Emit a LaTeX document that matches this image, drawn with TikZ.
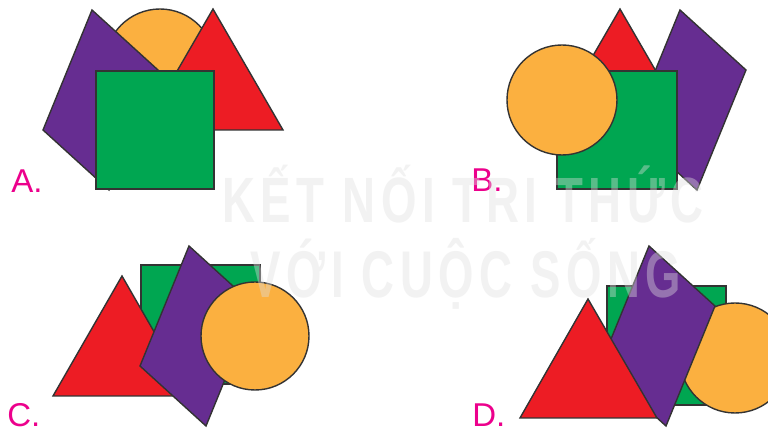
\documentclass[tikz,border=0pt]{standalone}
\usepackage{fontspec}
\setmainfont{Liberation Sans}
\newfontfamily\wmfont[LetterSpace=12]{Liberation Sans}
\usepackage{graphicx}
\definecolor{orng}{HTML}{FBB040}
\definecolor{redc}{HTML}{ED1C24}
\definecolor{grnc}{HTML}{00A651}
\definecolor{purc}{HTML}{662D91}
\definecolor{mag}{HTML}{EC008C}
\definecolor{edge}{HTML}{333333}
\usetikzlibrary{positioning}
\tikzset{
  shp/.style={draw=edge,line width=0.7pt,line join=miter},
  sq/.style={shp,fill=grnc},
  tri/.style={shp,fill=redc},
  par/.style={shp,fill=purc},
  disc/.style={shp,fill=orng},
  lab/.style={font=\fontsize{16.5}{18}\selectfont,text=mag,inner sep=0pt,anchor=base west},
  wm/.style={text=gray!25,text opacity=0.4,inner sep=0pt,anchor=base},
}

\begin{document}
\begin{tikzpicture}[x=0.5pt,y=-0.5pt]
\useasboundingbox (0,0) rectangle (768,433);
\clip (0,0) rectangle (768,433);
\fill[white] (0,0) rectangle (768,433);
% A
\draw[disc] (160,64) circle[radius=55];
\draw[par] (92,10) -- ++(66,60) -- ++(-49,120) -- ++(-66,-60) -- cycle;
\draw[tri] (213,9) -- (283,130) -- (143,130) -- cycle;
\draw[sq] (96,71) rectangle (214,189);
\node[lab] (labA) at (11,193) {A.};
% B
\draw[tri] (620,9) -- (690,130) -- (550,130) -- cycle;
\draw[par] (680,10) -- ++(66,60) -- ++(-49,120) -- ++(-66,-60) -- cycle;
\draw[sq] (557,71) rectangle (677,189);
\draw[disc] (562,100) circle[radius=55];
\node[lab] (labB) at (471,192) {B.};
% C
\draw[sq] (141,265) rectangle (260,384);
\draw[tri] (122,276) -- (191,396) -- (53,396) -- cycle;
\draw[par] (189,246) -- ++(66,60) -- ++(-49,120) -- ++(-66,-60) -- cycle;
\draw[disc] (255,336) circle[radius=54];
\node[lab] (labC) at (7,427) {C.};
% D
\draw[sq] (607,286) rectangle (726,405);
\draw[disc] (735,358) circle[radius=55];
\draw[par] (649,246) -- ++(66,60) -- ++(-49,120) -- ++(-66,-60) -- cycle;
\draw[tri] (588,299) -- (657,418) -- (520,418) -- cycle;
\node[lab] (labD) at (472,427) {D.};
% watermark
\node[wm] (wmA) at (463,223) {\resizebox{240.5pt}{\height}{\wmfont\bfseries\fontsize{32}{34}\selectfont KẾT NỐI TRI THỨC}};
\node[wm] (wmB) at (466,298) {\resizebox{215pt}{\height}{\wmfont\bfseries\fontsize{33}{35}\selectfont VỚI CUỘC SỐNG}};
\end{tikzpicture}
\end{document}
